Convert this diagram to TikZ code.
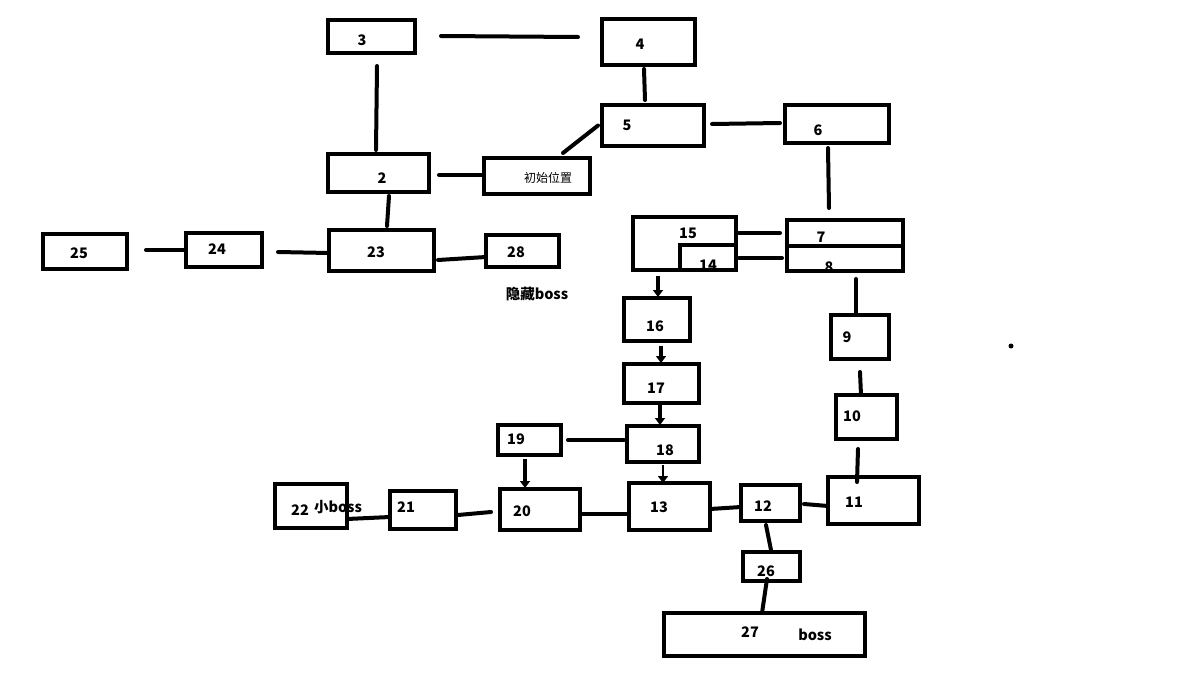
\documentclass[tikz,border=0pt]{standalone}
\usepackage{fontspec}
\setmainfont{Noto Sans CJK SC}
\usetikzlibrary{arrows.meta,calc}
\newcommand\mybox[5]{\node[box,minimum width={#4-#2-4},minimum height={#5-#3-4}] (#1) at ({(#2+#4)/2},{(#3+#5)/2}) {};}
\tikzset{
  box/.style={draw,line width=4pt,inner sep=0pt,outer sep=0pt},
  con/.style={line width=4pt,line cap=round},
  arr/.style={line width=3.5pt,-{Triangle[length=7pt,width=10pt]}},
  lbl/.style={inner sep=0pt,font=\fontsize{14.5}{16}\selectfont\bfseries},
  sml/.style={inner sep=0pt,font=\fontsize{12}{14}\selectfont}
}
\begin{document}
\begin{tikzpicture}[x=1pt,y=-1pt]
\useasboundingbox[fill=white] (0,0) rectangle (1192,680);
% boxes
\mybox{n3}{326}{18}{417}{55}
\mybox{n4}{600}{17}{697}{67}
\mybox{n5}{600}{103}{706}{148}
\mybox{n6}{783}{103}{891}{145}
\mybox{n2}{326}{152}{431}{194}
\mybox{ninit}{482}{156}{592}{196}
\mybox{n25}{41}{232}{129}{271}
\mybox{n24}{184}{231}{264}{269}
\mybox{n23}{327}{228}{436}{273}
\mybox{n28}{484}{233}{561}{269}
\mybox{n15}{631}{215}{738}{272}
\mybox{n7}{785}{218}{905}{273}
\mybox{n16}{622}{296}{692}{343}
\mybox{n17}{622}{362}{701}{405}
\mybox{n18}{625}{424}{701}{464}
\mybox{n19}{496}{423}{563}{457}
\mybox{n20}{498}{487}{582}{532}
\mybox{n21}{388}{489}{458}{531}
\mybox{n22}{273}{482}{349}{530}
\mybox{n13}{627}{481}{712}{532}
\mybox{n12}{739}{483}{802}{523}
\mybox{n11}{826}{475}{921}{526}
\mybox{n26}{741}{550}{802}{583}
\mybox{n27}{662}{611}{867}{658}
\mybox{n9}{829}{313}{891}{361}
\mybox{n10}{834}{393}{899}{441}
% inner divisions
\draw[line width=4pt] (680,270) -- (680,245) -- (736,245);
\draw[line width=4pt] (787,246) -- (903,246);
% labels
\node[lbl] (t3) at (362,40) {3};
\node[lbl] (t4) at (640,44) {4};
\node[lbl] (t5) at (627,125) {5};
\node[lbl] (t6) at (818,130) {6};
\node[lbl] (t2) at (382,178) {2};
\node[sml] (tinit) at (548,178) {初始位置};
\node[lbl] (t25) at (79,253) {25};
\node[lbl] (t24) at (217,249) {24};
\node[lbl] (t23) at (376,252) {23};
\node[lbl] (t28) at (516,252) {28};
\node[lbl] (thide) at (537,294) {隐藏boss};
\node[lbl] (t15) at (688,233) {15};
\node[lbl] (t14) at (708,265) {14};
\node[lbl] (t7) at (821,237) {7};
\node[lbl] (t8) at (829,267) {8};
\node[lbl] (t16) at (655,326) {16};
\node[lbl] (t17) at (656,388) {17};
\node[lbl] (t18) at (665,450) {18};
\node[lbl] (t19) at (516,439) {19};
\node[lbl] (t20) at (522,511) {20};
\node[lbl] (t21) at (406,507) {21};
\node[lbl] (t22) at (300,510) {22};
\node[lbl] (tsmall) at (338,507) {小boss};
\node[lbl] (t13) at (659,507) {13};
\node[lbl] (t12) at (763,506) {12};
\node[lbl] (t11) at (854,502) {11};
\node[lbl] (t26) at (766,571) {26};
\node[lbl] (t27) at (750,632) {27};
\node[lbl] (tboss) at (815,635) {boss};
\node[lbl] (t9) at (847,337) {9};
\node[lbl] (t10) at (852,416) {10};
% connectors
\draw[con] ($(n3.east)+(26,-0.5)$) -- ($(n4.west)+(-24,-5)$);
\draw[con] ($(n3.south)+(5.5,13)$) -- ($(n2.north)+(-2.5,-4)$);
\draw[con] ($(n4.south)+(-4.5,4)$) -- ($(n5.north)+(-8,-5)$);
\draw[con] ($(n5.west)+(-4,0)$) -- ($(ninit.north)+(26,-5)$);
\draw[con] ($(n2.east)+(10,2)$) -- ($(ninit.west)+(-2,-1)$);
\draw[con] ($(n5.east)+(8,-1.5)$) -- ($(n6.west)+(-5,-1)$);
\draw[con] ($(n6.south)+(-9,5)$) -- ($(n7.north)+(-16,-12)$);
\draw[con] ($(n2.south)+(10.5,4)$) -- ($(n23.north)+(5.5,-4)$);
\draw[con] ($(n25.east)+(19,-1.5)$) -- (n24.west);
\draw[con] ($(n24.east)+(16,2)$) -- ($(n23.west)+(0,2.5)$);
\draw[con] ($(n23.east)+(4,9.5)$) -- ($(n28.west)+(0,6)$);
\draw[con] ($(n15.east)+(3,-10.5)$) -- ($(n7.west)+(-7,-12.5)$);
\draw[con] ($(n15.east)+(3,14.5)$) -- ($(n7.west)+(-5,12.5)$);
\draw[arr] ($(n15.south)+(-26.5,6)$) -- ($(n16.north)+(1,-1)$);
\draw[arr] ($(n16.south)+(4,5)$) -- ($(n17.north)+(-0.5,-1)$);
\draw[arr] ($(n17.south)+(-1.5,1)$) -- ($(n18.north)+(-3,-1)$);
\draw[arr,line width=2.5pt] ($(n18.south)+(0,3)$) -- ($(n13.north)+(-6.5,0)$);
\draw[con] ($(n19.east)+(7,0)$) -- ($(n18.west)+(-3,-4)$);
\draw[arr] ($(n19.south)+(-4.5,4)$) -- ($(n20.north)+(-15,-1)$);
\draw[con] ($(n20.east)+(1,4.5)$) -- ($(n13.west)+(0,7.5)$);
\draw[con] ($(n21.east)+(2,5)$) -- ($(n20.west)+(-9,2.5)$);
\draw[con] ($(n22.east)+(0,13)$) -- ($(n21.west)+(0,7)$);
\draw[con] ($(n13.east)+(0,2.5)$) -- ($(n12.west)+(0,4)$);
\draw[con] ($(n12.east)+(4,1)$) -- ($(n11.west)+(0,5.5)$);
\draw[con] ($(n7.south)+(11,8)$) -- ($(n9.north)+(-4,0)$);
\draw[con] ($(n9.south)+(0,13)$) -- ($(n10.north)+(-5.5,0)$);
\draw[con] ($(n10.south)+(-8.5,10)$) -- ($(n11.north)+(-16.5,5)$);
\draw[con] ($(n12.south)+(-4.5,4)$) -- ($(n26.north)+(-0.5,-2)$);
\draw[con] ($(n26.south)+(-4.5,-2)$) -- ($(n27.north)+(-2.5,0)$);
\fill (1011,346) circle (2.5);
\end{tikzpicture}
\end{document}
